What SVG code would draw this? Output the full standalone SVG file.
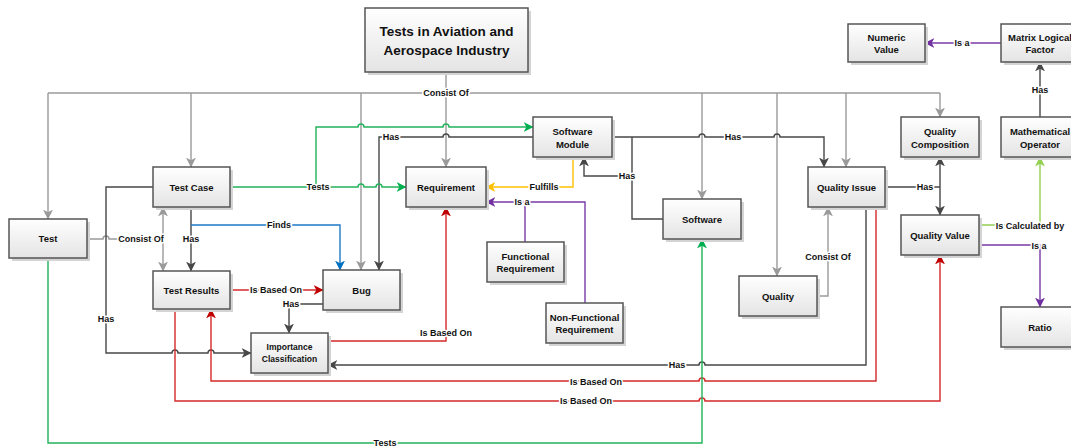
<svg xmlns="http://www.w3.org/2000/svg" width="1071" height="447" viewBox="0 0 1071 447">
  <style>
    .box { fill: url(#boxFill); stroke: #555; stroke-width: 1.5; }
    .shadow { fill: #d4d4d4; }
    .nt { font-family: "Liberation Sans", Arial, sans-serif; font-weight: bold; font-size: 9.5px; fill: #111; text-anchor: middle; dominant-baseline: central; }
    .small { font-size: 8.5px; }
    .title { font-size: 13.5px; }
    .c { fill: none; stroke-width: 1.4; }
    .gray { stroke: #9a9a9a; }
    .dark { stroke: #474747; }
    .red { stroke: #d42a2a; }
    .green { stroke: #22b35a; }
    .blue { stroke: #1f7ac8; }
    .yellow { stroke: #ffc000; }
    .purple { stroke: #7a3aa8; }
    .lime { stroke: #92d050; }
    .lbl { font-family: "Liberation Sans", Arial, sans-serif; font-weight: bold; font-size: 9px; fill: #111; text-anchor: middle; dominant-baseline: central; paint-order: stroke; stroke: #fff; stroke-width: 3px; stroke-linejoin: round; }
  </style>
  <defs>
    <linearGradient id="boxFill" x1="0" y1="0" x2="0" y2="1">
      <stop offset="0" stop-color="#ffffff"/>
      <stop offset="1" stop-color="#e4e4e4"/>
    </linearGradient>
    <marker id="aGray" viewBox="0 0 9 9" markerWidth="10" markerHeight="10" refX="8.5" refY="4.5" orient="auto-start-reverse" markerUnits="userSpaceOnUse"><path d="M0,0 L9,4.5 L0,9 L2.5,4.5 z" fill="#9a9a9a"/></marker>
    <marker id="aDark" viewBox="0 0 9 9" markerWidth="10" markerHeight="10" refX="8.5" refY="4.5" orient="auto-start-reverse" markerUnits="userSpaceOnUse"><path d="M0,0 L9,4.5 L0,9 L2.5,4.5 z" fill="#474747"/></marker>
    <marker id="aRed" viewBox="0 0 9 9" markerWidth="10" markerHeight="10" refX="8.5" refY="4.5" orient="auto-start-reverse" markerUnits="userSpaceOnUse"><path d="M0,0 L9,4.5 L0,9 L2.5,4.5 z" fill="#c00000"/></marker>
    <marker id="aGreen" viewBox="0 0 9 9" markerWidth="10" markerHeight="10" refX="8.5" refY="4.5" orient="auto-start-reverse" markerUnits="userSpaceOnUse"><path d="M0,0 L9,4.5 L0,9 L2.5,4.5 z" fill="#00b050"/></marker>
    <marker id="aBlue" viewBox="0 0 9 9" markerWidth="10" markerHeight="10" refX="8.5" refY="4.5" orient="auto-start-reverse" markerUnits="userSpaceOnUse"><path d="M0,0 L9,4.5 L0,9 L2.5,4.5 z" fill="#0070c0"/></marker>
    <marker id="aYellow" viewBox="0 0 9 9" markerWidth="10" markerHeight="10" refX="8.5" refY="4.5" orient="auto-start-reverse" markerUnits="userSpaceOnUse"><path d="M0,0 L9,4.5 L0,9 L2.5,4.5 z" fill="#ffc000"/></marker>
    <marker id="aPurple" viewBox="0 0 9 9" markerWidth="10" markerHeight="10" refX="8.5" refY="4.5" orient="auto-start-reverse" markerUnits="userSpaceOnUse"><path d="M0,0 L9,4.5 L0,9 L2.5,4.5 z" fill="#7030a0"/></marker>
    <marker id="aLime" viewBox="0 0 9 9" markerWidth="10" markerHeight="10" refX="8.5" refY="4.5" orient="auto-start-reverse" markerUnits="userSpaceOnUse"><path d="M0,0 L9,4.5 L0,9 L2.5,4.5 z" fill="#92d050"/></marker>
  </defs>

  <rect width="1071" height="447" fill="#fff"/>

  <!-- connectors -->
  <g id="connectors">
    <!-- gray: Consist Of -->
    <path class="c gray" d="M446,72 V167" marker-end="url(#aGray)"/>
    <path class="c gray" d="M48,93 H940"/>
    <path class="c gray" d="M48,93 V219" marker-end="url(#aGray)"/>
    <path class="c gray" d="M191,93 V167" marker-end="url(#aGray)"/>
    <path class="c gray" d="M361,93 V270" marker-end="url(#aGray)"/>
    <path class="c gray" d="M702,93 V199" marker-end="url(#aGray)"/>
    <path class="c gray" d="M777,93 V276" marker-end="url(#aGray)"/>
    <path class="c gray" d="M846,93 V167" marker-end="url(#aGray)"/>
    <path class="c gray" d="M940,93 V117" marker-end="url(#aGray)"/>
    <path class="c gray" d="M87,239 H103 a3,3 0 0 1 6,0 H163"/>
    <path class="c gray" d="M163,207 V271" marker-start="url(#aGray)" marker-end="url(#aGray)"/>
    <path class="c gray" d="M817,296 H828 V207" marker-end="url(#aGray)"/>

    <!-- dark: Has -->
    <path class="c dark" d="M153,187 H106 V353 H172 a3,3 0 0 1 6,0 H208 a3,3 0 0 1 6,0 H251" marker-end="url(#aDark)"/>
    <path class="c dark" d="M191,207 V271" marker-end="url(#aDark)"/>
    <path class="c dark" d="M323,304 H289 V333" marker-end="url(#aDark)"/>
    <path class="c dark" d="M533,137 H449 a3,3 0 0 0 -6,0 H379 V270" marker-end="url(#aDark)"/>
    <path class="c dark" d="M612,137 H699 a3,3 0 0 1 6,0 H774 a3,3 0 0 1 6,0 H824 V167" marker-end="url(#aDark)"/>
    <path class="c dark" d="M663,219 H632 V137"/>
    <path class="c dark" d="M632,176 H584 V157" marker-end="url(#aDark)"/>
    <path class="c dark" d="M885,187 H940"/>
    <path class="c dark" d="M940,157 V215" marker-start="url(#aDark)" marker-end="url(#aDark)"/>
    <path class="c dark" d="M866,207 V365 H705 a3,3 0 0 0 -6,0 H328" marker-end="url(#aDark)"/>
    <path class="c dark" d="M1040,117 V62" marker-end="url(#aDark)"/>

    <!-- red: Is Based On -->
    <path class="c red" d="M876,207 V381 H705 a3,3 0 0 0 -6,0 H211 V309" marker-end="url(#aRed)"/>
    <path class="c red" d="M175,309 V401 H699 a3,3 0 0 1 6,0 H940 V255" marker-end="url(#aRed)"/>
    <path class="c red" d="M230,290 H323" marker-end="url(#aRed)"/>
    <path class="c red" d="M328,341 H446 V207" marker-end="url(#aRed)"/>

    <!-- green: Tests -->
    <path class="c green" d="M230,187 H358 a3,3 0 0 1 6,0 H376 a3,3 0 0 1 6,0 H406" marker-end="url(#aGreen)"/>
    <path class="c green" d="M316,187 V127 H358 a3,3 0 0 1 6,0 H443 a3,3 0 0 1 6,0 H533" marker-end="url(#aGreen)"/>
    <path class="c green" d="M48,258 V443 H702 V239" marker-end="url(#aGreen)"/>

    <!-- blue: Finds -->
    <path class="c blue" d="M191,225 H340 V270" marker-end="url(#aBlue)"/>

    <!-- yellow: Fulfills -->
    <path class="c yellow" d="M573,157 V187 H486" marker-end="url(#aYellow)"/>

    <!-- purple: Is a -->
    <path class="c purple" d="M585,303 V202 H486" marker-end="url(#aPurple)"/>
    <path class="c purple" d="M525,242 V202"/>
    <path class="c purple" d="M1001,43 H925" marker-end="url(#aPurple)"/>
    <path class="c purple" d="M979,245 H1040 V307" marker-end="url(#aPurple)"/>

    <!-- light green: Is Calculated by -->
    <path class="c lime" d="M979,225 H1040 V157" marker-end="url(#aLime)"/>

    <!-- connector labels -->
    <text class="lbl" x="446" y="93">Consist Of</text>
    <text class="lbl" x="141" y="239">Consist Of</text>
    <text class="lbl" x="828" y="257">Consist Of</text>
    <text class="lbl" x="106" y="319">Has</text>
    <text class="lbl" x="191" y="239">Has</text>
    <text class="lbl" x="291" y="304">Has</text>
    <text class="lbl" x="391" y="137">Has</text>
    <text class="lbl" x="733" y="137">Has</text>
    <text class="lbl" x="627" y="176">Has</text>
    <text class="lbl" x="925" y="187">Has</text>
    <text class="lbl" x="677" y="365">Has</text>
    <text class="lbl" x="1040" y="90">Has</text>
    <text class="lbl" x="596" y="382">Is Based On</text>
    <text class="lbl" x="586" y="401">Is Based On</text>
    <text class="lbl" x="276" y="290">Is Based On</text>
    <text class="lbl" x="446" y="333">Is Based On</text>
    <text class="lbl" x="318" y="187">Tests</text>
    <text class="lbl" x="385" y="443">Tests</text>
    <text class="lbl" x="279" y="225">Finds</text>
    <text class="lbl" x="544" y="187">Fulfills</text>
    <text class="lbl" x="522" y="202">Is a</text>
    <text class="lbl" x="962" y="43">Is a</text>
    <text class="lbl" x="1039" y="246">Is a</text>
    <text class="lbl" x="1030" y="226">Is Calculated by</text>
  </g>

  <!-- nodes -->
  <g id="n-title">
    <rect class="shadow" x="368" y="11" width="163" height="64"/>
    <rect class="box" x="365" y="8" width="163" height="64"/>
    <text class="nt title" x="446.5" y="31">Tests in Aviation and</text>
    <text class="nt title" x="446.5" y="50">Aerospace Industry</text>
  </g>
  <g id="n-test">
    <rect class="shadow" x="12" y="222" width="78" height="39"/>
    <rect class="box" x="9" y="219" width="78" height="39"/>
    <text class="nt" x="48" y="238.5">Test</text>
  </g>
  <g id="n-testcase">
    <rect class="shadow" x="156" y="170" width="77" height="40"/>
    <rect class="box" x="153" y="167" width="77" height="40"/>
    <text class="nt" x="191.5" y="187">Test Case</text>
  </g>
  <g id="n-testresults">
    <rect class="shadow" x="156" y="274" width="77" height="38"/>
    <rect class="box" x="153" y="271" width="77" height="38"/>
    <text class="nt" x="191.5" y="290">Test Results</text>
  </g>
  <g id="n-bug">
    <rect class="shadow" x="326" y="273" width="77" height="40"/>
    <rect class="box" x="323" y="270" width="77" height="40"/>
    <text class="nt" x="361.5" y="290">Bug</text>
  </g>
  <g id="n-importance">
    <rect class="shadow" x="254" y="336" width="77" height="40"/>
    <rect class="box" x="251" y="333" width="77" height="40"/>
    <text class="nt small" x="289.5" y="347">Importance</text>
    <text class="nt small" x="289.5" y="359">Classification</text>
  </g>
  <g id="n-requirement">
    <rect class="shadow" x="409" y="170" width="80" height="40"/>
    <rect class="box" x="406" y="167" width="80" height="40"/>
    <text class="nt" x="446" y="187">Requirement</text>
  </g>
  <g id="n-swmodule">
    <rect class="shadow" x="536" y="120" width="79" height="40"/>
    <rect class="box" x="533" y="117" width="79" height="40"/>
    <text class="nt" x="572.5" y="131">Software</text>
    <text class="nt" x="572.5" y="144">Module</text>
  </g>
  <g id="n-functional">
    <rect class="shadow" x="490" y="245" width="77" height="40"/>
    <rect class="box" x="487" y="242" width="77" height="40"/>
    <text class="nt" x="525.5" y="256">Functional</text>
    <text class="nt" x="525.5" y="268">Requirement</text>
  </g>
  <g id="n-nonfunctional">
    <rect class="shadow" x="549" y="306" width="77" height="40"/>
    <rect class="box" x="546" y="303" width="77" height="40"/>
    <text class="nt" x="584.5" y="317">Non-Functional</text>
    <text class="nt" x="584.5" y="329">Requirement</text>
  </g>
  <g id="n-software">
    <rect class="shadow" x="666" y="202" width="78" height="40"/>
    <rect class="box" x="663" y="199" width="78" height="40"/>
    <text class="nt" x="702" y="219">Software</text>
  </g>
  <g id="n-qualityissue">
    <rect class="shadow" x="811" y="170" width="77" height="40"/>
    <rect class="box" x="808" y="167" width="77" height="40"/>
    <text class="nt" x="846.5" y="187">Quality Issue</text>
  </g>
  <g id="n-quality">
    <rect class="shadow" x="742" y="279" width="78" height="40"/>
    <rect class="box" x="739" y="276" width="78" height="40"/>
    <text class="nt" x="778" y="296">Quality</text>
  </g>
  <g id="n-qualitycomposition">
    <rect class="shadow" x="904" y="120" width="78" height="40"/>
    <rect class="box" x="901" y="117" width="78" height="40"/>
    <text class="nt" x="940" y="131">Quality</text>
    <text class="nt" x="940" y="144">Composition</text>
  </g>
  <g id="n-qualityvalue">
    <rect class="shadow" x="904" y="218" width="78" height="40"/>
    <rect class="box" x="901" y="215" width="78" height="40"/>
    <text class="nt" x="940" y="235">Quality Value</text>
  </g>
  <g id="n-mathoperator">
    <rect class="shadow" x="1004" y="120" width="78" height="40"/>
    <rect class="box" x="1001" y="117" width="78" height="40"/>
    <text class="nt" x="1040" y="131">Mathematical</text>
    <text class="nt" x="1040" y="144">Operator</text>
  </g>
  <g id="n-matrixfactor">
    <rect class="shadow" x="1004" y="27" width="78" height="38"/>
    <rect class="box" x="1001" y="24" width="78" height="38"/>
    <text class="nt" x="1040" y="37">Matrix Logical</text>
    <text class="nt" x="1040" y="49">Factor</text>
  </g>
  <g id="n-numericvalue">
    <rect class="shadow" x="851" y="27" width="77" height="38"/>
    <rect class="box" x="848" y="24" width="77" height="38"/>
    <text class="nt" x="886.5" y="37">Numeric</text>
    <text class="nt" x="886.5" y="49">Value</text>
  </g>
  <g id="n-ratio">
    <rect class="shadow" x="1004" y="310" width="78" height="40"/>
    <rect class="box" x="1001" y="307" width="78" height="40"/>
    <text class="nt" x="1040" y="327">Ratio</text>
  </g>
</svg>
